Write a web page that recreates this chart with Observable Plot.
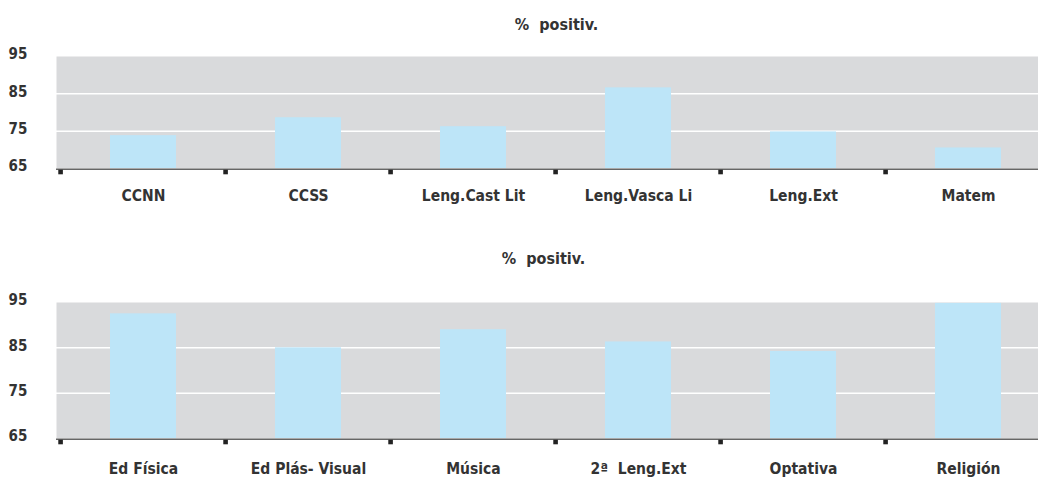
<!DOCTYPE html>
<html>
<head>
<meta charset="utf-8">
<script src="https://cdn.jsdelivr.net/npm/d3@7"></script>
<script src="https://cdn.jsdelivr.net/npm/@observablehq/plot@0.6"></script>
<style>
  html, body { margin: 0; padding: 0; background: #fff; }
  #chart svg { display: block; }
</style>
</head>
<body>
<div id="chart"></div>
<script>
const title = "%  positiv.";
const yTicks = [65, 75, 85, 95];
const gridValues = [75, 85];

const topCategories = ["CCNN", "CCSS", "Leng.Cast Lit", "Leng.Vasca Li", "Leng.Ext", "Matem"];
const topValues = [73.8, 78.6, 76.2, 86.6, 74.8, 70.5];

const bottomCategories = ["Ed Física", "Ed Plás- Visual", "Música", "2ª  Leng.Ext", "Optativa", "Religión"];
const bottomValues = [92.5, 85.0, 89.0, 86.3, 84.2, 94.8];

const FONT = "'DejaVu Sans Condensed', 'DejaVu Sans', sans-serif";
const GRAY = "#d9dadc";
const BAR = "#bde5f8";
const TEXT = "#333333";

function panel(cats, vals, opts) {
  const data = cats.map((c, i) => ({cat: c, value: vals[i]}));
  const width = 1038;
  const xRange = [58, 1053];
  const step = (xRange[1] - xRange[0]) / cats.length;
  return Plot.plot({
    width,
    height: opts.height,
    marginLeft: 56,
    marginRight: 0,
    marginTop: opts.marginTop,
    marginBottom: opts.marginBottom,
    style: {fontFamily: FONT, fontSize: "15px", fontWeight: "bold", color: TEXT, background: "white", overflow: "visible"},
    x: {domain: cats, range: xRange, paddingInner: 0.6, paddingOuter: 0.3, align: 0.5},
    y: {domain: [65, 95]},
    marks: [
      Plot.frame({fill: GRAY, stroke: null}),
      Plot.ruleY(gridValues, {stroke: "white", strokeWidth: 1.5}),
      Plot.barY(data, {x: "cat", y1: 65, y2: "value", fill: BAR}),
      Plot.ruleY([65], {stroke: "#666", strokeWidth: 1.6, dy: 0.8}),
      Plot.dot(cats, {x: d => d, y: () => 65, symbol: "square", r: 2.6, fill: "#222", stroke: null, dx: -step / 2, dy: 3.5}),
      Plot.axisY({ticks: yTicks, tickSize: 0, tickPadding: 48, textAnchor: "start", dy: -2, fill: TEXT, fontSize: 15, label: null}),
      Plot.axisX({tickSize: 0, tickPadding: opts.labelPad, fill: TEXT, fontSize: 15.5, label: null}),
      Plot.text([title], {frameAnchor: "top", dy: opts.titleDy, dx: opts.titleDx, fill: TEXT, fontSize: 16, fontWeight: "bold"})
    ]
  });
}

const root = document.getElementById("chart");
root.append(panel(topCategories, topValues, {height: 215, marginTop: 56, marginBottom: 47, labelPad: 21, titleDy: -38, titleDx: 9}));
root.append(panel(bottomCategories, bottomValues, {height: 262, marginTop: 87, marginBottom: 39, labelPad: 24, titleDy: -50, titleDx: -4}));
</script>
</body>
</html>
